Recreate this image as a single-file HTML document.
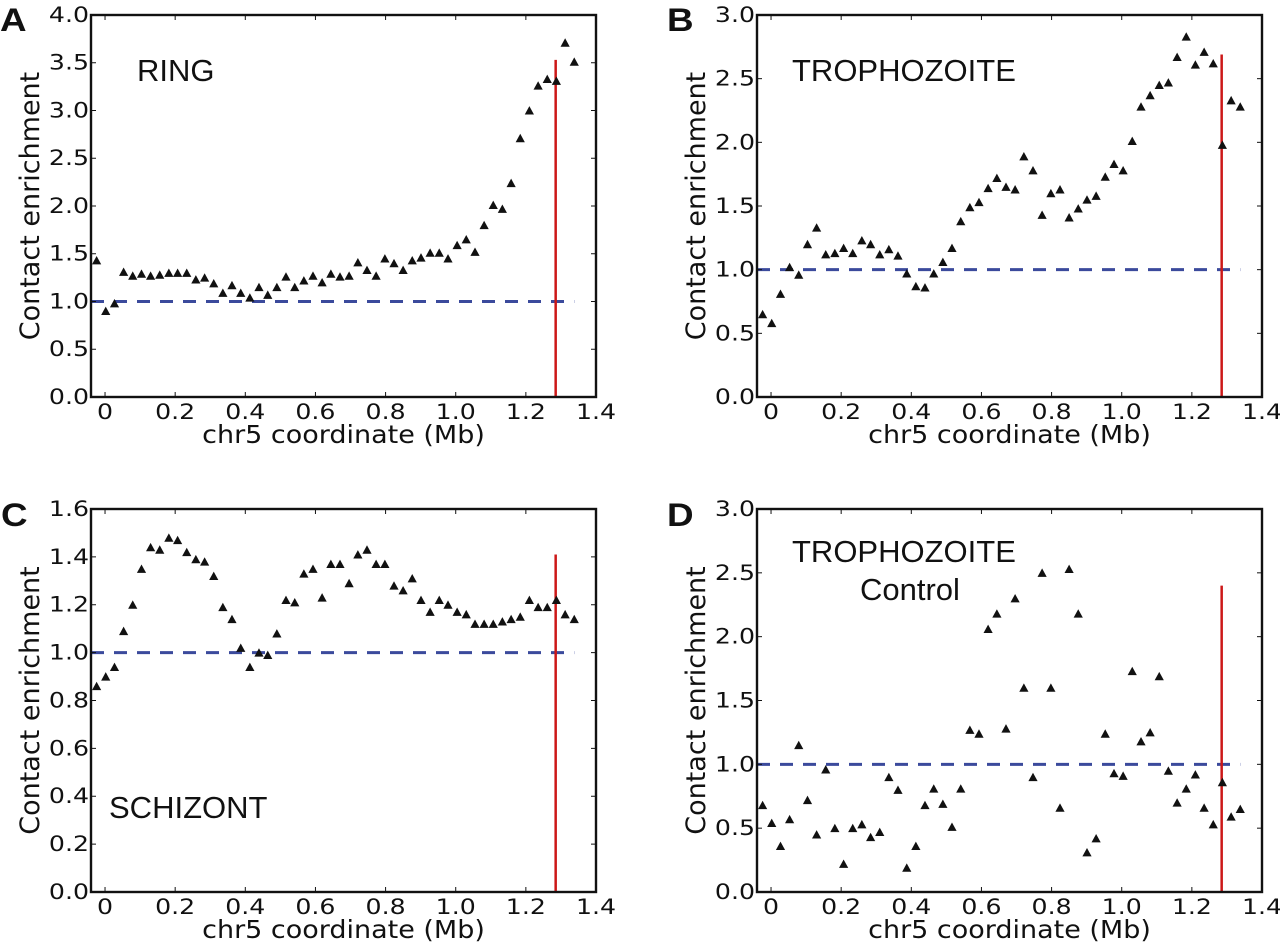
<!DOCTYPE html>
<html><head><meta charset="utf-8"><title>Contact enrichment chr5</title>
<style>
html,body{margin:0;padding:0;background:#fff;}
svg{display:block;}
text{font-family:"DejaVu Sans","Liberation Sans",sans-serif;fill:#111;}
.lbl{font-family:"Liberation Sans",sans-serif;}
</style></head>
<body>
<svg id="fig" width="1280" height="943" viewBox="0 0 1280 943" xmlns="http://www.w3.org/2000/svg"></svg>
<script>
const xPositions = [-0.024,0.002,0.027,0.053,0.079,0.104,0.130,0.156,0.182,0.207,0.233,0.259,0.284,0.310,0.336,0.362,0.387,0.413,0.439,0.464,0.490,0.516,0.541,0.567,0.593,0.619,0.644,0.670,0.696,0.721,0.747,0.773,0.798,0.824,0.850,0.876,0.901,0.927,0.953,0.978,1.004,1.030,1.055,1.081,1.107,1.133,1.158,1.184,1.210,1.235,1.261,1.287,1.312,1.338];
const ringValues = [1.43,0.90,0.98,1.31,1.27,1.29,1.27,1.28,1.30,1.30,1.30,1.23,1.25,1.19,1.09,1.17,1.09,1.04,1.15,1.07,1.15,1.26,1.15,1.22,1.27,1.20,1.29,1.26,1.27,1.41,1.33,1.27,1.45,1.40,1.33,1.43,1.46,1.51,1.51,1.45,1.59,1.65,1.52,1.80,2.01,1.97,2.24,2.71,3.00,3.26,3.33,3.31,3.71,3.51];
const trophValues = [0.65,0.58,0.81,1.02,0.96,1.20,1.33,1.12,1.13,1.17,1.13,1.23,1.20,1.12,1.16,1.11,0.97,0.87,0.86,0.97,1.06,1.17,1.38,1.49,1.53,1.64,1.72,1.65,1.63,1.89,1.78,1.43,1.60,1.63,1.41,1.48,1.55,1.58,1.73,1.83,1.78,2.01,2.28,2.37,2.45,2.47,2.67,2.83,2.61,2.71,2.62,1.98,2.33,2.28];
const schizValues = [0.86,0.90,0.94,1.09,1.20,1.35,1.44,1.43,1.48,1.47,1.42,1.39,1.38,1.32,1.19,1.14,1.02,0.94,1.00,0.99,1.08,1.22,1.21,1.33,1.35,1.23,1.37,1.37,1.29,1.41,1.43,1.37,1.37,1.28,1.26,1.31,1.22,1.17,1.22,1.20,1.17,1.16,1.12,1.12,1.12,1.13,1.14,1.15,1.22,1.19,1.19,1.22,1.16,1.14];
const controlValues = [0.68,0.54,0.36,0.57,1.15,0.72,0.45,0.96,0.50,0.22,0.50,0.53,0.43,0.47,0.90,0.80,0.19,0.36,0.68,0.81,0.69,0.51,0.81,1.27,1.24,2.06,2.18,1.28,2.30,1.60,0.90,2.50,1.60,0.66,2.53,2.18,0.31,0.42,1.24,0.93,0.91,1.73,1.18,1.25,1.69,0.95,0.70,0.81,0.92,0.66,0.53,0.86,0.59,0.65];
const xTicks = [0,0.2,0.4,0.6,0.8,1.0,1.2,1.4];
const xTickLabels = ["0","0.2","0.4","0.6","0.8","1.0","1.2","1.4"];
const yTicksA = [0,0.5,1,1.5,2,2.5,3,3.5,4];
const yTicksB = [0,0.5,1,1.5,2,2.5,3];
const yTicksC = [0,0.2,0.4,0.6,0.8,1.0,1.2,1.4,1.6];
const redLineX = 1.285;
const redTops = [3.53,2.69,1.41,2.40];
const baseline = 1.0;

const NS="http://www.w3.org/2000/svg";
const svg=document.getElementById('fig');
function mk(tag,attrs,parent){const e=document.createElementNS(NS,tag);for(const k in attrs)e.setAttribute(k,attrs[k]);(parent||svg).appendChild(e);return e;}

const panels=[
 {key:'a',letter:'A',L:91,R:596,T:15,B:397,ymax:4,yt:yTicksA,vals:ringValues,red:redTops[0],lx:0,ly:31,titles:[{t:'RING',x:137,y:81}]},
 {key:'b',letter:'B',L:757,R:1262,T:15,B:397,ymax:3,yt:yTicksB,vals:trophValues,red:redTops[1],lx:667,ly:31,titles:[{t:'TROPHOZOITE',x:792,y:81}]},
 {key:'c',letter:'C',L:91,R:596,T:509,B:892,ymax:1.6,yt:yTicksC,vals:schizValues,red:redTops[2],lx:1,ly:526,titles:[{t:'SCHIZONT',x:109,y:818}]},
 {key:'d',letter:'D',L:757,R:1262,T:509,B:892,ymax:3,yt:yTicksB,vals:controlValues,red:redTops[3],lx:667,ly:526,titles:[{t:'TROPHOZOITE',x:792,y:562},{t:'Control',x:860,y:600}]}
];
const XMIN=-0.04,XMAX=1.4;

panels.forEach(p=>{
  const g=mk('g',{});
  
  
  const xs=v=>p.L+(v-XMIN)/(XMAX-XMIN)*(p.R-p.L);
  const ys=v=>p.B-(v/p.ymax)*(p.B-p.T);
  const lt=mk('text',{x:p.lx,y:p.ly,'font-size':32,'font-weight':'bold',class:'lbl',transform:`translate(${p.lx} 0) scale(1.15 1) translate(${-p.lx} 0)`},g);
  lt.textContent=p.letter;
  
  
  const dl=mk('line',{x1:p.L,x2:xs(xPositions[xPositions.length-1]),y1:ys(baseline),y2:ys(baseline),stroke:'#3b4a9c','stroke-width':3,'stroke-dasharray':'13,10'},g);
  
  
  const rl=mk('line',{x1:xs(redLineX),x2:xs(redLineX),y1:p.B,y2:ys(p.red),stroke:'#cc1818','stroke-width':2.5},g);
  
  
  p.vals.forEach((v,i)=>{
    const cx=xs(xPositions[i]),cy=ys(v);
    const tr=mk('polygon',{points:`${cx-4.6},${cy+4} ${cx+4.6},${cy+4} ${cx},${cy-4.4}`,fill:'#111'},g);
    
    
  });
  const fr=mk('rect',{x:p.L,y:p.T,width:p.R-p.L,height:p.B-p.T,fill:'none',stroke:'#111','stroke-width':2.4},g);
  
  
  xTicks.forEach((t,i)=>{
    const x=xs(t);
    mk('line',{x1:x,x2:x,y1:p.B,y2:p.B-5,stroke:'#111','stroke-width':1},g);
    mk('line',{x1:x,x2:x,y1:p.T,y2:p.T+5,stroke:'#111','stroke-width':1},g);
    const tx=mk('text',{x:x,y:p.B+22,'font-size':21,'text-anchor':'middle',transform:`translate(${x} 0) scale(1.2 1) translate(${-x} 0)`},g);
    tx.textContent=xTickLabels[i];
    
    
  });
  p.yt.forEach(t=>{
    const y=ys(t);
    mk('line',{x1:p.L,x2:p.L+5,y1:y,y2:y,stroke:'#111','stroke-width':1},g);
    mk('line',{x1:p.R,x2:p.R-5,y1:y,y2:y,stroke:'#111','stroke-width':1},g);
    const ax=p.L-2;
    const ty=mk('text',{x:ax,y:y+7,'font-size':21,'text-anchor':'end',transform:`translate(${ax} 0) scale(1.2 1) translate(${-ax} 0)`},g);
    ty.textContent=t.toFixed(1);
    
    
  });
  const mx=(p.L+p.R)/2;
  const xl=mk('text',{x:mx,y:p.B+46,'font-size':25,'text-anchor':'middle',transform:`translate(${mx} 0) scale(1.08 1) translate(${-mx} 0)`},g);
  xl.textContent='chr5 coordinate (Mb)';
  
  
  const cy=(p.T+p.B)/2, cx=p.L-52;
  const yl=mk('text',{x:cx,y:cy,'font-size':27,'text-anchor':'middle',transform:`rotate(-90 ${cx} ${cy})`},g);
  yl.textContent='Contact enrichment';
  
  
  p.titles.forEach((tt,j)=>{
    const te=mk('text',{x:tt.x,y:tt.y,'font-size':31,class:'lbl'},g);
    te.textContent=tt.t;
    
    
  });
});
</script>
</body></html>
